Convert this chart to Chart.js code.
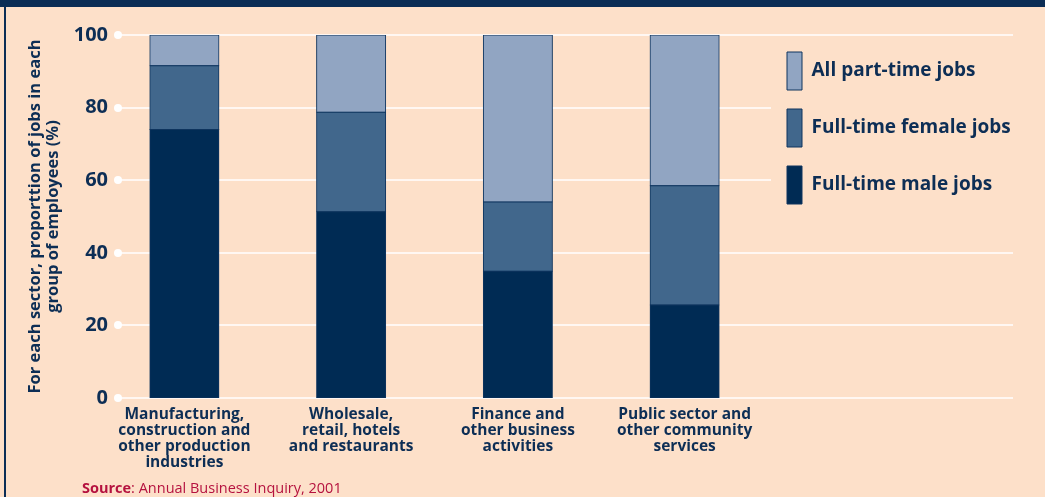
<!DOCTYPE html>
<html>
<head>
<meta charset="utf-8">
<script src="https://cdn.jsdelivr.net/npm/chart.js@4/dist/chart.umd.min.js"></script>
<style>
  html, body { margin: 0; padding: 0; background: #FDE0C9; }
  canvas { display: block; }
</style>
</head>
<body>
<canvas id="c" width="1045" height="497"></canvas>
<script>
// ---- data ----
const categories = [
  ["Manufacturing,", "construction and", "other production", "industries"],
  ["Wholesale,", "retail, hotels", "and restaurants"],
  ["Finance and", "other business", "activities"],
  ["Public sector and", "other community", "services"]
];
const maleFullTime   = [74.0, 51.3, 34.9, 25.6];
const femaleFullTime = [17.5, 27.4, 19.1, 32.9];
const allPartTime    = [8.5, 21.3, 46.0, 41.5];
const yTicks = [0, 20, 40, 60, 80, 100];
const seriesNames = ["Full-time male jobs", "Full-time female jobs", "All part-time jobs"];
const yTitle = ["For each sector, proporttion of jobs in each", "group of employees (%)"];
const sourceBold = "Source";
const sourceRest = ": Annual Business Inquiry, 2001";

// ---- styles ----
const BG = "#FDE0C9";
const NAVY = "#0D2E55";
const EDGE = "#0E345E";
const FONT = "'Open Sans', 'DejaVu Sans', sans-serif";
const Y_TICK_SIZE = 20;

// right edge of y tick labels should sit a few px right of the plot-area edge
const measureCtx = document.createElement("canvas").getContext("2d");
measureCtx.font = "bold " + Y_TICK_SIZE + "px " + FONT;
const widestTick = Math.max(...yTicks.map(v => measureCtx.measureText(String(v)).width));
const Y_TICK_PAD = 7 - widestTick;

const decor = {
  id: "decor",
  beforeInit(chart) { patchLegend(chart); },
  beforeUpdate(chart) { patchLegend(chart); },
  afterLayout(chart) {
    const lg = chart.legend;
    if (lg) { lg.top -= 2; lg.bottom -= 2; }
  },
  beforeDraw(chart) {
    const ctx = chart.ctx;
    ctx.save();
    ctx.fillStyle = BG;
    ctx.fillRect(0, 0, chart.width, chart.height);
    ctx.fillStyle = "#0B2D55";
    ctx.fillRect(0, 0, chart.width, 7);
    ctx.fillRect(4, 0, 2, chart.height);
    ctx.restore();
  },
  beforeDatasetsDraw(chart) {
    const ctx = chart.ctx;
    const y = chart.scales.y;
    const lg = chart.legend;
    const n = lg.legendItems ? lg.legendItems.length : 0;
    const lgTop = lg.top + 5;
    const lgBottom = lg.top + 19 + n * 57 + 10;
    ctx.save();
    ctx.strokeStyle = "#FFFFFF";
    ctx.fillStyle = "#FFFFFF";
    ctx.lineWidth = 1.5;
    yTicks.forEach(v => {
      const py = Math.round(y.getPixelForValue(v));
      const x0 = 118;
      const x1 = (py > lgTop && py < lgBottom) ? lg.left + 3 : 1013;
      ctx.beginPath();
      ctx.moveTo(x0, py);
      ctx.lineTo(x1, py);
      ctx.stroke();
      ctx.beginPath();
      ctx.arc(x0, py, 4, 0, Math.PI * 2);
      ctx.fill();
    });
    ctx.restore();
  },
  afterDraw(chart) {
    const ctx = chart.ctx;
    ctx.save();
    ctx.fillStyle = "#B5123F";
    ctx.textBaseline = "alphabetic";
    ctx.font = "bold 14.5px " + FONT;
    ctx.fillText(sourceBold, 82, 493);
    const w = ctx.measureText(sourceBold).width;
    ctx.font = "14.5px " + FONT;
    ctx.fillText(sourceRest, 82 + w, 493);
    ctx.restore();
  }
};

function patchLegend(chart) {
  const lg = chart.legend;
  if (!lg || lg._patched) return;
  const orig = lg.fit;
  lg.fit = function() { orig.call(this); this.width = 277; };
  lg._patched = true;
}

new Chart(document.getElementById("c"), {
  type: "bar",
  data: {
    labels: categories,
    datasets: [
      { label: seriesNames[0], data: maleFullTime, backgroundColor: "#002B54", borderColor: EDGE, borderWidth: 1, borderSkipped: false, inflateAmount: 0.5 },
      { label: seriesNames[1], data: femaleFullTime, backgroundColor: "#41678C", borderColor: EDGE, borderWidth: 1, borderSkipped: false, inflateAmount: 0.5 },
      { label: seriesNames[2], data: allPartTime, backgroundColor: "#91A5C2", borderColor: EDGE, borderWidth: 1, borderSkipped: false, inflateAmount: 0.5 }
    ]
  },
  options: {
    responsive: false,
    animation: false,
    devicePixelRatio: 1,
    categoryPercentage: 1,
    barPercentage: 0.414,
    layout: { padding: { top: 35, bottom: 0, left: 0, right: 0 } },
    plugins: {
      tooltip: { enabled: false },
      legend: {
        position: "right",
        align: "start",
        reverse: true,
        labels: {
          boxWidth: 15,
          boxHeight: 38,
          padding: 19,
          color: NAVY,
          font: { family: FONT, size: 19, weight: "bold" }
        }
      }
    },
    scales: {
      x: {
        stacked: true,
        grid: { display: false },
        border: { display: false },
        ticks: {
          color: NAVY,
          padding: 1,
          maxRotation: 0,
          autoSkip: false,
          font: { family: FONT, size: 15.5, weight: "bold", lineHeight: 1.03 }
        },
        afterFit(s) { s.height = 99; }
      },
      y: {
        stacked: true,
        min: 0,
        max: 100,
        grid: { display: false, drawTicks: false },
        border: { display: false },
        afterBuildTicks(s) { s.ticks = yTicks.map(v => ({ value: v })); },
        ticks: {
          color: NAVY,
          mirror: true,
          crossAlign: "far",
          padding: Y_TICK_PAD,
          font: { family: FONT, size: Y_TICK_SIZE, weight: "bold" }
        },
        title: {
          display: true,
          text: yTitle,
          color: NAVY,
          padding: { top: 26, bottom: 0 },
          font: { family: FONT, size: 16.5, weight: "bold", lineHeight: 1.1 }
        },
        afterFit(s) { s.width = 101; }
      }
    }
  },
  plugins: [decor]
});
</script>
</body>
</html>
